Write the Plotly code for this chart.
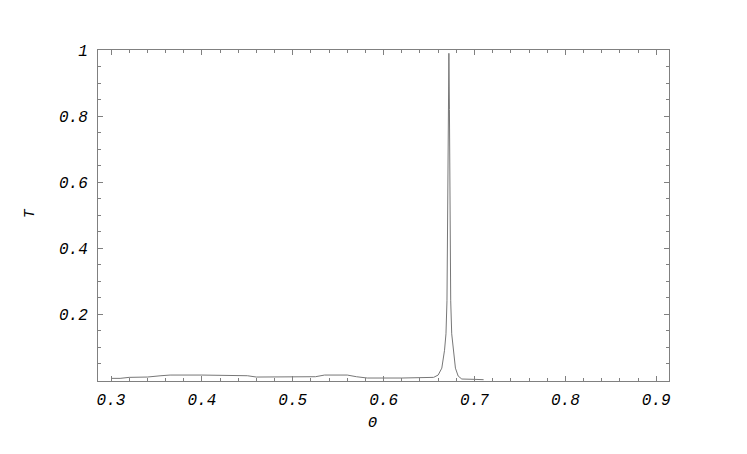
import plotly.graph_objects as go

# Transmission T versus angle Theta
theta = [0.300, 0.310, 0.320, 0.340, 0.355, 0.365, 0.400, 0.440, 0.450, 0.460,
         0.500, 0.525, 0.535, 0.560, 0.570, 0.582, 0.620, 0.650, 0.655, 0.660,
         0.664, 0.667, 0.6686, 0.6697, 0.6705, 0.6712, 0.6718, 0.6724, 0.6731,
         0.6738, 0.6749, 0.6765, 0.679, 0.682, 0.686, 0.700, 0.710]
trans = [0.005, 0.005, 0.008, 0.009, 0.013, 0.015, 0.015, 0.015, 0.013, 0.009,
         0.009, 0.010, 0.015, 0.015, 0.010, 0.006, 0.006, 0.006, 0.008, 0.015,
         0.036, 0.090, 0.14, 0.24, 0.50, 0.82, 0.99, 0.82, 0.50,
         0.24, 0.14, 0.09, 0.036, 0.012, 0.003, 0.002, 0.001]

y_tickvals = [0.2, 0.4, 0.6, 0.8, 1.0]
y_ticktext = ['0.2', '0.4', '0.6', '0.8', '1']

FRAME = '#808080'
TICKFONT = dict(family='Liberation Mono', size=16, style='italic', color='black')

fig = go.Figure()
fig.add_trace(go.Scatter(x=theta, y=trans, mode='lines',
                         line=dict(color='#777777', width=1), showlegend=False))

axis_common = dict(showgrid=False, zeroline=False, showline=True, linecolor=FRAME,
                   linewidth=1, mirror='ticks', ticks='inside', tickcolor=FRAME,
                   ticklen=5, tickwidth=1, tickfont=TICKFONT)

fig.update_xaxes(range=[0.2857, 0.914], tick0=0.3, dtick=0.1, tickformat='.1f',
                 minor=dict(dtick=0.02, tick0=0.3, ticks='inside', ticklen=3,
                            tickcolor=FRAME),
                 ticklabelstandoff=4, **axis_common)
fig.update_yaxes(range=[-0.003, 1.0], tickmode='array', tickvals=y_tickvals,
                 ticktext=y_ticktext,
                 minor=dict(dtick=0.05, tick0=0, ticks='inside', ticklen=3,
                            tickcolor=FRAME),
                 ticklabelstandoff=6, **axis_common)

fig.add_annotation(text='Θ', x=0.4816, y=-0.127, xref='paper', yref='paper',
                   showarrow=False, xanchor='center', yanchor='middle',
                   font=dict(family='Liberation Mono', size=15, style='italic',
                             color='black'))
fig.add_annotation(text='T', x=-0.117, y=0.5076, xref='paper', yref='paper',
                   showarrow=False, xanchor='center', yanchor='middle', textangle=-90,
                   font=dict(family='Liberation Mono', size=15, style='italic',
                             color='black'))

# page body keeps an 8px margin, so the figure is sized to fit the window
fig.update_layout(width=739, height=446, plot_bgcolor='white', paper_bgcolor='white',
                  margin=dict(l=90, r=78, t=42, b=73))

fig.write_html("out.html")
